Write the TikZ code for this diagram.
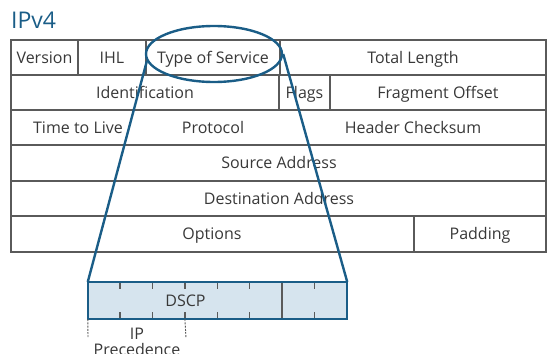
\documentclass[tikz,border=0pt]{standalone}
\usepackage{fontspec}
\setmainfont{Open Sans}
\usetikzlibrary{shapes.geometric,calc}
\definecolor{gridgray}{HTML}{5A5A5A}
\definecolor{txtgray}{HTML}{383838}
\definecolor{jblue}{HTML}{1A5D87}
\definecolor{bitfill}{HTML}{D6E4EE}

\begin{document}
\begin{tikzpicture}[x=1pt,y=-1pt,
  grid/.style={draw=gridgray,line width=2.6pt},
  field/.style={font=\fontsize{16}{18}\selectfont,text=txtgray,inner sep=0pt,
    text height=11.4pt,text depth=0pt},
  link/.style={draw=jblue,line width=2.4pt},
  tick/.style={draw=gridgray,line width=1.4pt},
  guide/.style={draw=gridgray,line width=0.9pt,dash pattern=on 2pt off 1.2pt}]
\useasboundingbox (0,0) rectangle (548,353);

% title
\node[anchor=base west,font=\fontsize{23}{26}\selectfont,text=jblue,inner sep=0pt]
  (title) at (11,29) {IPv4};

% header grid
\draw[grid] (11,40) rectangle (546,252);
\foreach \yy in {75,110,145,181,216}
  \draw[grid] (11,\yy) -- (546,\yy);
\foreach \xx in {78,146,280}
  \draw[grid] (\xx,40) -- (\xx,75);
\foreach \xx in {279,330}
  \draw[grid] (\xx,75) -- (\xx,110);
\draw[grid] (414,216) -- (414,252);

% field labels
\node[field] (version)  at (44.5,57.5) {Version};
\node[field] (ihl)      at (112,57.5)  {IHL};
\node[field] (tos)      at (213,57.5)  {Type of Service};
\node[field] (totlen)   at (413,57.5)  {Total Length};
\node[field] (ident)    at (145,92.5)  {Identification};
\node[field] (flags)    at (304.5,92.5) {Flags};
\node[field] (fragoff)  at (438,92.5)  {Fragment Offset};
\node[field] (ttl)      at (78,127.5)  {Time to Live};
\node[field] (proto)    at (213,127.5) {Protocol};
\node[field] (hcsum)    at (413,127.5) {Header Checksum};
\node[field] (srcaddr)  at (279,163)   {Source Address};
\node[field] (dstaddr)  at (279,198.5) {Destination Address};
\node[field] (options)  at (212,234)   {Options};
\node[field] (padding)  at (480,234)   {Padding};

% ToS byte expanded into its bits
\node[fill=bitfill,minimum width=259pt,minimum height=37pt,inner sep=0pt]
  (dscp) at (217.5,300.5) {};
\foreach \k in {1,...,5,7} {
  \draw[tick] ($(dscp.north west)+(32.375*\k,1.2)$) -- ++(0,6);
  \draw[tick] ($(dscp.south west)+(32.375*\k,-1.2)$) -- ++(0,-6);
}
\draw[grid] ($(dscp.north west)+(194.25,0)$) -- ($(dscp.south west)+(194.25,0)$);
\draw[link] (dscp.north west) rectangle (dscp.south east);
\node[field] (dscplabel) at (185.5,300.5) {DSCP};

% IP precedence bracket
\coordinate (precA) at (88,338);
\coordinate (precB) at (186,338);
\draw[guide] (dscp.south west) -- (precA);
\draw[guide] ($(dscp.south west)+(97.1,0)$) -- (precB);
\node[font=\fontsize{16}{16}\selectfont,text=txtgray,inner sep=0pt,align=center,
  anchor=base] (iplabel) at (137,355) {IP\\Precedence};

% highlight ring and zoom lines
\node[ellipse,draw=jblue,line width=2.4pt,minimum width=136pt,minimum height=56pt,
  inner sep=0pt] (tosring) at (214,54) {};
\draw[link] (tosring.186) -- (dscp.north west);
\draw[link] (tosring.east) -- (dscp.north east);
\end{tikzpicture}
\end{document}
